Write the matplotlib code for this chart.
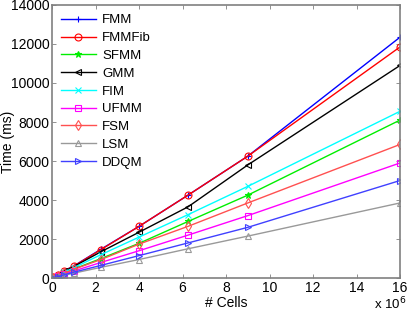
import numpy as np
import matplotlib
matplotlib.use('Agg')
import matplotlib.pyplot as plt

plt.rcParams['font.family'] = ['Liberation Sans', 'DejaVu Sans']

# cells (x 10^6)
cells = [0.01, 0.0625, 0.25, 0.5625, 1, 2.25, 4, 6.25, 9, 16]

fmm = [8, 40, 150, 380, 620, 1480, 2650, 4250, 6250, 12350]
fmmfib = [8, 40, 150, 380, 610, 1460, 2650, 4250, 6250, 11850]
sfmm = [5, 25, 100, 270, 460, 1000, 1780, 2900, 4250, 8100]
gmm = [7, 35, 135, 340, 590, 1350, 2350, 3650, 5800, 10900]
fim = [6, 30, 120, 300, 530, 1200, 2100, 3250, 4700, 8550]
ufmm = [4, 20, 80, 200, 360, 800, 1400, 2200, 3200, 5900]
fsm = [5, 25, 100, 250, 450, 950, 1740, 2650, 3850, 6850]
lsm = [3, 15, 60, 140, 250, 550, 950, 1500, 2150, 3850]
ddqm = [3, 18, 70, 170, 300, 650, 1150, 1800, 2600, 5000]

names = ['FMM', 'FMMFib', 'SFMM', 'GMM', 'FIM', 'UFMM', 'FSM', 'LSM', 'DDQM']
series = [fmm, fmmfib, sfmm, gmm, fim, ufmm, fsm, lsm, ddqm]
colors = ['#0000ff', '#ff0000', '#00ee00', '#000000', '#00ffff',
          '#ff00ff', '#ff5050', '#999999', '#4040ff']
markers = ['+', 'o', '*', '<', 'x', 's', 'd', '^', '>']

fig = plt.figure(figsize=(4.07, 3.11), dpi=100)
ax = fig.add_axes([0.128, 0.106, 0.855, 0.878])

x = np.array(cells)
for name, ys, c, m in zip(names, series, colors, markers):
    filled = m in ['+', 'x', '*']
    ax.plot(x, ys, color=c, marker=m, markersize=5, linewidth=1.0,
            markerfacecolor=c if filled else 'none', markeredgecolor=c,
            markeredgewidth=0.8, label=name)

ax.set_xlim(0, 16)
ax.set_ylim(0, 14000)
ax.set_xticks(np.arange(0, 17, 2))
ax.set_yticks(np.arange(0, 14001, 2000))
ax.tick_params(direction='in', length=3, width=0.6, labelsize=10,
               top=True, right=True, pad=2, color='#808080')
for s in ax.spines.values():
    s.set_color('#808080')
    s.set_linewidth(1.2)
ax.set_xlabel('# Cells', fontsize=10, labelpad=1)
ax.set_ylabel('Time (ms)', fontsize=10)
ax.yaxis.set_label_coords(-0.108, 0.5)
fig.text(0.998, 0.006, r'x 10$^6$', ha='right', va='baseline', fontsize=9.5)

ax.legend(loc='upper left', frameon=False, fontsize=9.5, handlelength=2.6,
          labelspacing=0.42, borderaxespad=0.3, handletextpad=0.5)

fig.savefig('out.png', dpi=100)
